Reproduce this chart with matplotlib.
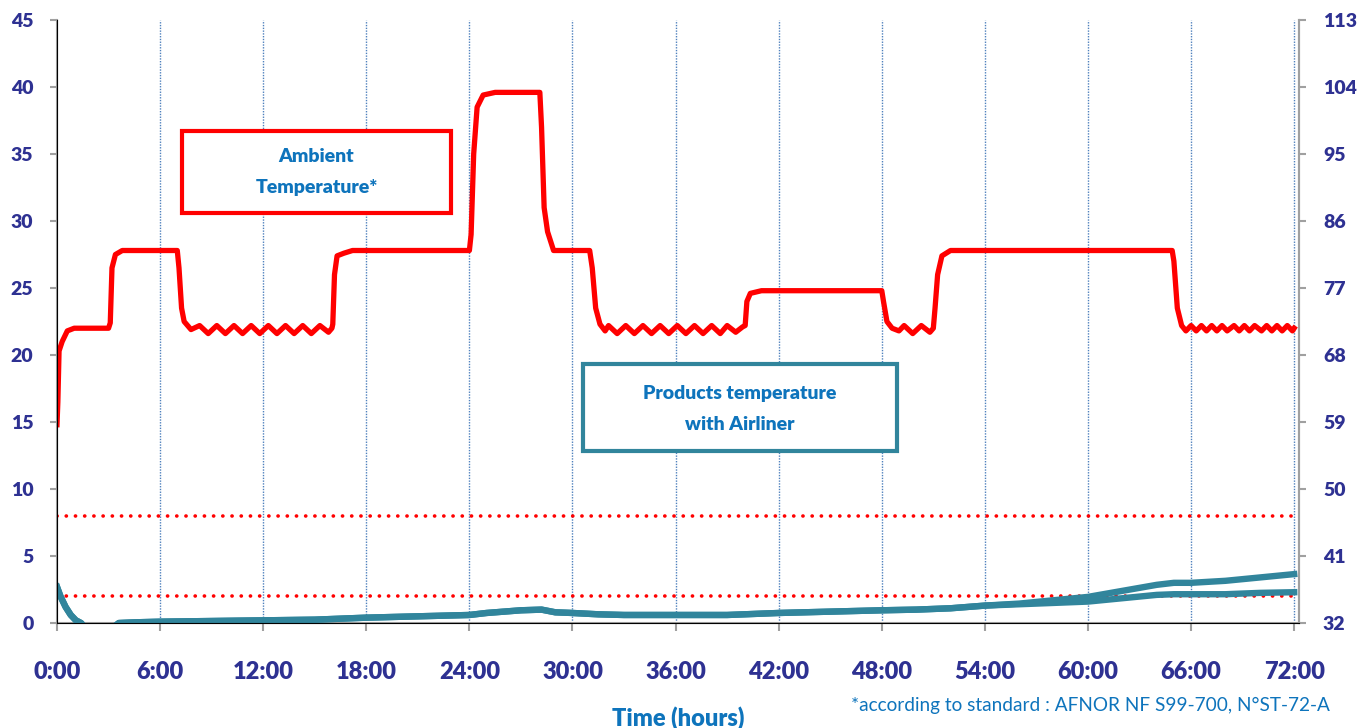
import numpy as np
import matplotlib
matplotlib.use("Agg")
import matplotlib.pyplot as plt
from matplotlib.patches import Rectangle

plt.rcParams['font.family'] = ['Lato', 'DejaVu Sans']
plt.rcParams['font.weight'] = 'heavy'

# ambient temperature (deg C) vs time (hours)
amb_hours = [0, 0.05, 0.12, 0.3, 0.6, 1.0, 3.0, 3.1, 3.2, 3.4, 3.8, 7.0, 7.1, 7.25, 7.4,
             7.8, 8.3, 8.8, 9.3, 9.8, 10.3, 10.8, 11.3, 11.8, 12.3, 12.8, 13.3, 13.8, 14.3, 14.8, 15.3, 15.8, 16.0,
             16.05, 16.15, 16.3, 16.7, 17.2, 24.0, 24.1, 24.25, 24.45, 24.8, 25.5, 28.1, 28.2, 28.35, 28.55, 28.9,
             31.0, 31.15, 31.35, 31.6,
             31.9, 32.1, 32.6, 33.1, 33.6, 34.1, 34.6, 35.1, 35.6, 36.1, 36.6, 37.1, 37.6, 38.1, 38.6, 39.0, 39.5, 39.9,
             40.05, 40.15, 40.35, 41.0, 48.0, 48.1, 48.3, 48.6,
             49.0, 49.3, 49.8, 50.3, 50.8, 51.0,
             51.1, 51.25, 51.5, 52.0, 64.9, 65.0, 65.2, 65.45,
             65.7, 66.0, 66.3, 66.6, 66.9, 67.2, 67.5, 67.8, 68.1, 68.5, 68.8, 69.1, 69.4, 69.7, 70.1, 70.4,
             70.7, 71.0, 71.3, 71.6, 71.9, 72.0]
amb_temp = [14.8, 16.5, 20.3, 21.0, 21.8, 22.0, 22.0, 22.4, 26.5, 27.5, 27.8, 27.8, 26.5, 23.5, 22.5,
            21.9, 22.2, 21.6, 22.2, 21.6, 22.2, 21.6, 22.2, 21.6, 22.2, 21.6, 22.2, 21.6, 22.2, 21.6, 22.2, 21.7, 22.0,
            22.3, 26.0, 27.4, 27.6, 27.8, 27.8, 29.0, 35.0, 38.5, 39.4, 39.6, 39.6, 37.0, 31.0, 29.2, 27.8,
            27.8, 26.5, 23.5, 22.3,
            21.8, 22.2, 21.6, 22.2, 21.6, 22.2, 21.6, 22.2, 21.6, 22.2, 21.6, 22.2, 21.6, 22.2, 21.6, 22.2, 21.7, 22.1,
            22.2, 24.0, 24.6, 24.8, 24.8, 24.0, 22.5, 22.0,
            21.8, 22.2, 21.6, 22.2, 21.7, 22.0,
            23.5, 26.0, 27.4, 27.8, 27.8, 27.0, 23.5, 22.2,
            21.8, 22.2, 21.8, 22.2, 21.8, 22.2, 21.8, 22.2, 21.8, 22.2, 21.8, 22.2, 21.8, 22.2, 21.8, 22.2,
            21.8, 22.2, 21.8, 22.2, 21.8, 22.0]

# products temperature with Airliner (two probes)
prod_hours = [0, 0.2, 0.5, 0.8, 1.1, 1.4, 1.8, 3.0, 3.6, 4.5, 6, 9, 12, 15, 18, 21, 24, 25, 26, 27, 28.2,
              29, 30, 31.5, 33, 36, 39, 42, 45, 48, 50, 52, 54, 56, 58, 60, 62, 64, 65, 66, 68, 70, 72]
prod_a = [2.7, 2.0, 1.2, 0.6, 0.2, 0.0, -0.6, -0.6, 0.0, 0.05, 0.1, 0.15, 0.2, 0.25, 0.4, 0.5, 0.6, 0.75, 0.85, 0.95, 1.0,
          0.8, 0.75, 0.65, 0.6, 0.6, 0.6, 0.75, 0.85, 0.95, 1.0, 1.1, 1.3, 1.45, 1.7, 1.95, 2.4, 2.85, 3.0, 3.0, 3.15, 3.4, 3.65]
prod_b = [2.7, 2.0, 1.2, 0.6, 0.2, 0.0, -0.6, -0.6, 0.0, 0.05, 0.1, 0.15, 0.2, 0.25, 0.4, 0.5, 0.6, 0.75, 0.85, 0.95, 1.0,
          0.8, 0.75, 0.65, 0.6, 0.6, 0.6, 0.75, 0.85, 0.95, 1.0, 1.1, 1.3, 1.4, 1.5, 1.6, 1.85, 2.1, 2.15, 2.15, 2.15, 2.25, 2.3]

limit_low = 2
limit_high = 8

x_ticks = [0, 6, 12, 18, 24, 30, 36, 42, 48, 54, 60, 66, 72]
x_labels = ['0:00', '6:00', '12:00', '18:00', '24:00', '30:00', '36:00',
            '42:00', '48:00', '54:00', '60:00', '66:00', '72:00']
c_ticks = [0, 5, 10, 15, 20, 25, 30, 35, 40, 45]
f_ticks = [32, 41, 50, 59, 68, 77, 86, 95, 104, 113]

tick_col = '#2E3192'
text_blue = '#0E74BC'
teal = '#31859C'
gray = '#A0A0A0'

fig = plt.figure(figsize=(13.57, 7.28), dpi=100)
ax = fig.add_axes([0.042, 0.1442, 0.9155, 0.8283])

for h in x_ticks[1:]:
    ax.axvline(h, color='#4F81BD', lw=1, ls=(0, (1, 1)), zorder=1)

ax.axhline(limit_high, color='red', lw=2.6, ls=(0, (0.05, 2.5)), dash_capstyle='round', zorder=2)
ax.axhline(limit_low, color='red', lw=2.6, ls=(0, (0.05, 2.5)), dash_capstyle='round', zorder=2)

ax.plot(prod_hours, prod_b, color=teal, lw=4.6, solid_joinstyle='round', zorder=3)
ax.plot(prod_hours, prod_a, color=teal, lw=4.6, solid_joinstyle='round', zorder=3)
ax.plot(amb_hours, amb_temp, color='#FF0000', lw=3.8, solid_joinstyle='round', zorder=4)

ax.set_xlim(0, 72.3)
ax.set_ylim(0, 45)
ax.set_xticks(x_ticks, labels=x_labels, fontweight='heavy')
ax.set_yticks(c_ticks, labels=[str(v) for v in c_ticks], fontweight='heavy')

ax.spines['top'].set_visible(False)
for s in ['left', 'bottom', 'right']:
    ax.spines[s].set_color(gray)
    ax.spines[s].set_linewidth(1.5)
ax.tick_params(axis='x', direction='out', length=6, width=1.5, color=gray, pad=21,
               labelsize=17, labelcolor=tick_col)
ax.tick_params(axis='y', direction='out', length=5, width=1.5, color=gray, pad=12,
               labelsize=14, labelcolor=tick_col)

ax2 = ax.twinx()
ax2.set_ylim(32, 113)
ax2.set_yticks(f_ticks, labels=[str(v) for v in f_ticks], fontweight='heavy')
ax2.spines['top'].set_visible(False)
ax2.spines['right'].set_color(gray)
ax2.spines['right'].set_linewidth(1.5)
ax2.tick_params(axis='y', direction='out', length=5, width=1.5, color=gray, pad=12,
                labelsize=14, labelcolor=tick_col)

ax.set_xlabel('Time (hours)', fontsize=17, fontweight='heavy', color=text_blue, labelpad=17)

# annotation boxes (figure pixel coords)
W, H = 1357, 728
def box(x0, y0, x1, y1, col, lines, ys):
    fig.patches.append(Rectangle((x0 / W, 1 - y1 / H), (x1 - x0) / W, (y1 - y0) / H,
                                 transform=fig.transFigure, fill=True, facecolor='white',
                                 edgecolor=col, lw=3, zorder=5))
    for t, y in zip(lines, ys):
        fig.text((x0 + x1) / 2 / W, 1 - y / H, t, ha='center', va='center', fontsize=14,
                 fontweight='heavy', color=text_blue, zorder=6)

box(182, 131, 451, 213, '#FF0000', ['Ambient', 'Temperature*'], [157, 188])
box(583, 364, 897, 451, teal, ['Products temperature', 'with Airliner'], [393, 425])

fig.text(1330 / W, 1 - 705 / H, '*according to standard : AFNOR NF S99-700, N°ST-72-A',
         ha='right', va='center', fontsize=13.7, fontweight='normal', color=text_blue)

fig.savefig('out.png', dpi=100)
